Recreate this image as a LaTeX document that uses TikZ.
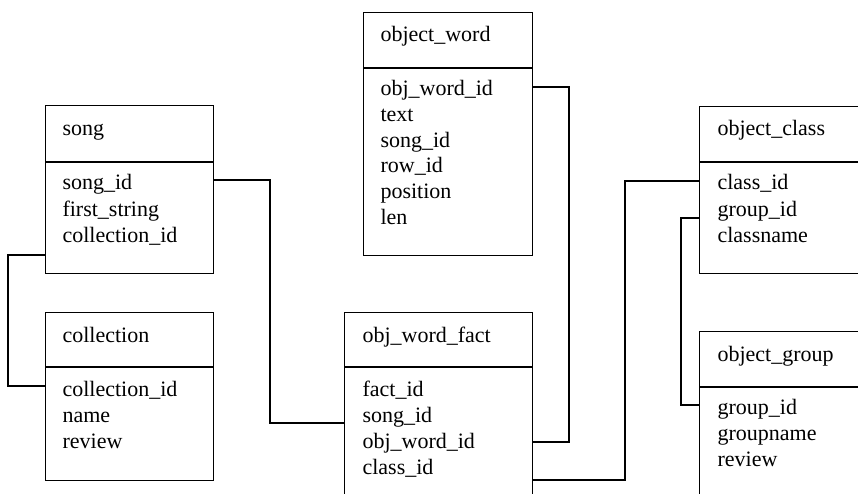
\documentclass[tikz,border=0pt]{standalone}
\usepackage{fontspec}
\setmainfont{Liberation Serif}
\begin{document}
\begin{tikzpicture}[x=1pt,y=-1pt,
  line width=1.1pt,
  tbl/.style 2 args={draw=black, line width=1.1pt, anchor=north west,
    inner sep=0pt, minimum width=#1pt, minimum height=#2pt},
  lbl/.style={anchor=base west, inner sep=0pt,
    font=\fontsize{22}{25}\selectfont},
  link/.style={draw=black, line width=1.1pt}]
\useasboundingbox (0,0) rectangle (858,494);
\clip (0,0) rectangle (858,494);

% ---- tables: frame plus a rule under the header ----
\node[tbl={168}{168}] (song) at (45,105) {};
\draw ([yshift=-57pt]song.north west) -- ([yshift=-57pt]song.north east);
\node[lbl] (song-t) at (62,136) {song};
\node[lbl] (song-1) at (62,190) {song\_id};
\node[lbl] (song-2) at (62,216) {first\_string};
\node[lbl] (song-3) at (62,242) {collection\_id};

\node[tbl={168}{168}] (coll) at (45,312) {};
\draw ([yshift=-55pt]coll.north west) -- ([yshift=-55pt]coll.north east);
\node[lbl] (coll-t) at (62,342) {collection};
\node[lbl] (coll-1) at (62,396) {collection\_id};
\node[lbl] (coll-2) at (62,422) {name};
\node[lbl] (coll-3) at (62,448) {review};

\node[tbl={169}{243}] (ow) at (363,12) {};
\draw ([yshift=-56pt]ow.north west) -- ([yshift=-56pt]ow.north east);
\node[lbl] (ow-t) at (380,42) {object\_word};
\node[lbl] (ow-1) at (380,96) {obj\_word\_id};
\node[lbl] (ow-2) at (380,122) {text};
\node[lbl] (ow-3) at (380,148) {song\_id};
\node[lbl] (ow-4) at (380,173) {row\_id};
\node[lbl] (ow-5) at (380,199) {position};
\node[lbl] (ow-6) at (380,225) {len};

\node[tbl={188}{220}] (owf) at (344,312) {};
\draw ([yshift=-55pt]owf.north west) -- ([yshift=-55pt]owf.north east);
\node[lbl] (owf-t) at (362,342) {obj\_word\_fact};
\node[lbl] (owf-1) at (362,396) {fact\_id};
\node[lbl] (owf-2) at (362,422) {song\_id};
\node[lbl] (owf-3) at (362,448) {obj\_word\_id};
\node[lbl] (owf-4) at (362,474) {class\_id};

\node[tbl={200}{167}] (oc) at (699,106) {};
\draw ([yshift=-56pt]oc.north west) -- ([yshift=-56pt]oc.north east);
\node[lbl] (oc-t) at (717,136) {object\_class};
\node[lbl] (oc-1) at (717,190) {class\_id};
\node[lbl] (oc-2) at (717,216) {group\_id};
\node[lbl] (oc-3) at (717,242) {classname};

\node[tbl={200}{200}] (og) at (699,331) {};
\draw ([yshift=-56pt]og.north west) -- ([yshift=-56pt]og.north east);
\node[lbl] (og-t) at (717,361) {object\_group};
\node[lbl] (og-1) at (717,414) {group\_id};
\node[lbl] (og-2) at (717,440) {groupname};
\node[lbl] (og-3) at (717,466) {review};

% ---- relationship lines ----
\coordinate (j1a) at (270,180);
\coordinate (j1b) at (270,423);
\draw[link] (song.east |- j1a) -- (j1a) -- (j1b) -- (owf.west |- j1b);

\coordinate (j2a) at (8,255);
\coordinate (j2b) at (8,386);
\draw[link] (song.west |- j2a) -- (j2a) -- (j2b) -- (coll.west |- j2b);

\coordinate (j3a) at (569,87);
\coordinate (j3b) at (569,442);
\draw[link] (ow.east |- j3a) -- (j3a) -- (j3b) -- (owf.east |- j3b);

\coordinate (j4a) at (625,480);
\coordinate (j4b) at (625,181);
\draw[link] (owf.east |- j4a) -- (j4a) -- (j4b) -- (oc.west |- j4b);

\coordinate (j5a) at (681,218);
\coordinate (j5b) at (681,405);
\draw[link] (oc.west |- j5a) -- (j5a) -- (j5b) -- (og.west |- j5b);
\end{tikzpicture}
\end{document}
